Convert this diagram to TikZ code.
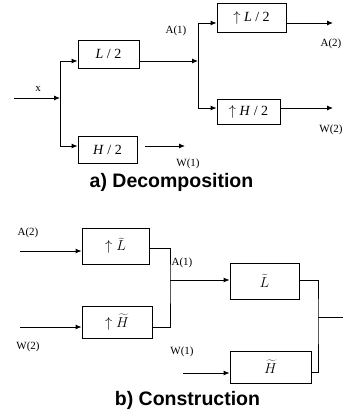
\documentclass[tikz,border=0pt]{standalone}
\usepackage{fontspec}
\setmainfont{Liberation Serif}
\newfontfamily\capfont{Liberation Sans}
\usetikzlibrary{arrows.meta,calc}

\newcommand*{\pw}{343}
\newcommand*{\ph}{411}

\begin{document}
\begin{tikzpicture}
[
	x=1pt,y=-1pt,
	fbox/.style={draw,line width=0.9pt,inner sep=0pt,font=\fontsize{14}{16}\selectfont},
	arr/.style={-{Latex[length=6pt,width=5pt]},line width=0.9pt},
	wire/.style={line width=0.9pt},
	lbl/.style={font=\fontsize{11}{13}\selectfont,inner sep=0pt},
	capt/.style={font=\capfont\bfseries\fontsize{19.5}{22}\selectfont,inner sep=0pt}
]
	\useasboundingbox (0,0) rectangle (\pw,\ph);

	% a) decomposition
	\node[fbox,minimum width=61,minimum height=28] (lo) at (108.5,54) {\textit{L} / 2};
	\node[fbox,minimum width=59,minimum height=27] (hi) at (107.5,149.5) {\textit{H} / 2};
	\node[fbox,minimum width=69,minimum height=29] (ulo) at (251.5,17.5) {$\uparrow$ \textit{L} / 2};
	\node[fbox,minimum width=63,minimum height=25] (uhi) at (248.5,111.5) {$\uparrow$ \textit{H} / 2};

	\coordinate (xin) at (14,98);
	\coordinate (j1) at (60,98);
	\coordinate (j2) at (198,61);
	\coordinate (a2out) at (333,23);
	\coordinate (w2out) at (333,108);
	\coordinate (w1s) at (145,146);
	\coordinate (w1e) at (185,146);

	\draw[arr] (xin) -- (j1);
	\draw[arr] (j1) |- ([yshift=-7pt]lo.west);
	\draw[arr] (j1) |- ([yshift=3.5pt]hi.west);
	\draw[arr] ([yshift=-7pt]lo.east) -- (j2);
	\draw[arr] (j2) |- ([yshift=-5.5pt]ulo.west);
	\draw[arr] (j2) |- ([yshift=3.5pt]uhi.west);
	\draw[arr] (ulo.east |- a2out) -- (a2out);
	\draw[arr] (uhi.east |- w2out) -- (w2out);
	\draw[arr] (w1s) -- (w1e);

	\node[lbl] (xl) at (38,89) {x};
	\node[lbl] (a1l) at (176,31) {A(1)};
	\node[lbl] (w1l) at (188,164) {W(1)};
	\node[lbl] (a2l) at (331,44) {A(2)};
	\node[lbl] (w2l) at (331,130) {W(2)};
	\node[capt] (capa) at (171.5,182) {a) Decomposition};

	% b) construction
	\node[fbox,minimum width=67,minimum height=36] (uL) at (115.5,246) {$\uparrow\widetilde{L}$};
	\node[fbox,minimum width=70,minimum height=32] (uH) at (117,322) {$\uparrow\widetilde{H}$};
	\node[fbox,minimum width=69,minimum height=36] (Lt) at (264.5,281) {$\widetilde{L}$};
	\node[fbox,minimum width=81,minimum height=32] (Ht) at (270.5,367) {$\widetilde{H}$};

	\coordinate (a2in) at (20,251);
	\coordinate (w2in) at (20,327);
	\coordinate (w1in) at (183,373);
	\coordinate (j3) at (170,280);
	\coordinate (j4) at (318,317);
	\coordinate (xout) at (343,317);

	\draw[arr] (a2in) -- (a2in -| uL.west);
	\draw[arr] (w2in) -- (w2in -| uH.west);
	\draw[wire] ([yshift=-2pt]uL.east) -| (j3) |- ([yshift=-5pt]uH.east);
	\draw[arr] (j3) -- (j3 -| Lt.west);
	\draw[arr] (w1in) -- (w1in -| Ht.west);
	\draw[wire] ([yshift=1pt]Lt.east) -| (j4) |- ([yshift=-5pt]Ht.east);
	\draw[wire] (j4) -- (xout);

	\node[lbl] (a2b) at (28,233) {A(2)};
	\node[lbl] (w2b) at (28,347) {W(2)};
	\node[lbl] (a1b) at (182,263) {A(1)};
	\node[lbl] (w1b) at (182,352) {W(1)};
	\node[capt] (capb) at (187.5,400) {b) Construction};

\end{tikzpicture}
\end{document}
